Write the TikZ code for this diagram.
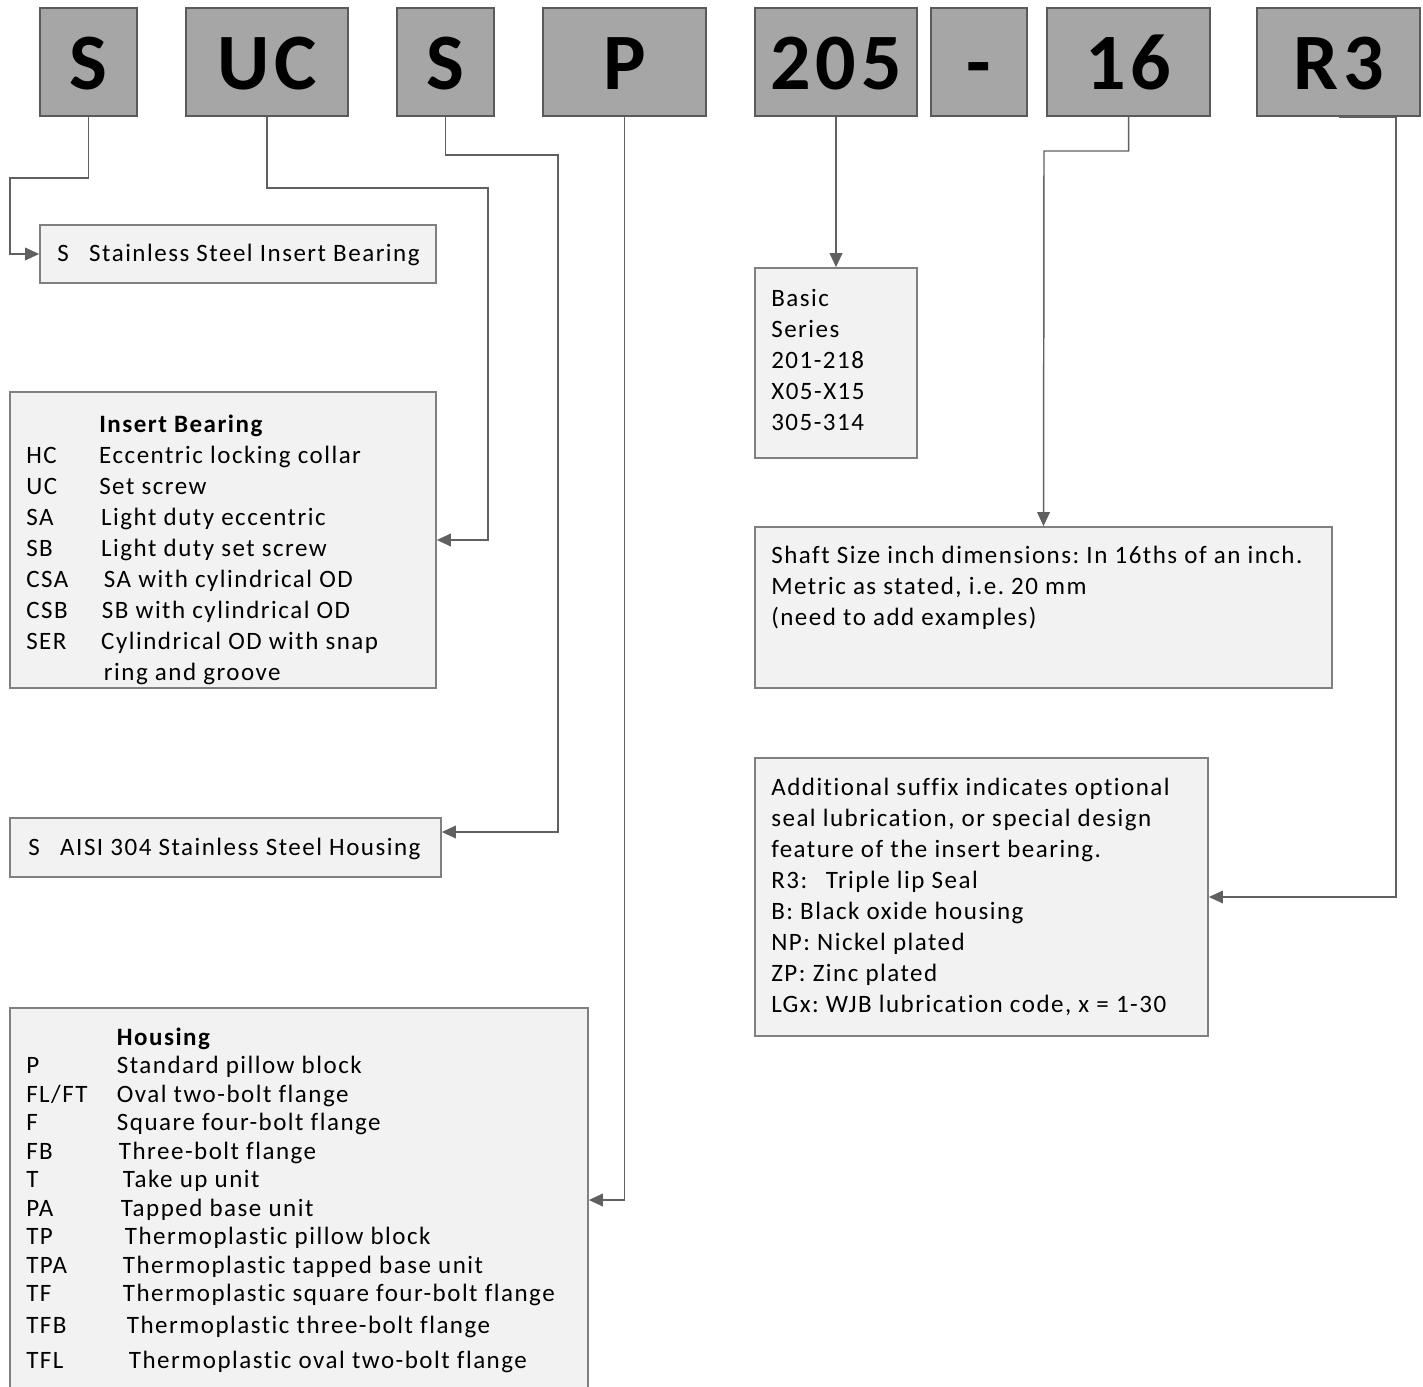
\documentclass[tikz,border=0pt]{standalone}
\usepackage{fontspec}
\setmainfont[LetterSpace=6, Ligatures={NoCommon}]{Carlito}
\frenchspacing
\usetikzlibrary{positioning,arrows.meta}
\definecolor{codefill}{HTML}{A6A6A6}
\definecolor{codeline}{HTML}{5A5A5A}
\definecolor{notefill}{HTML}{F2F2F2}
\definecolor{noteline}{HTML}{808080}
\definecolor{wire}{HTML}{606060}

\begin{document}
\begin{tikzpicture}[
  x=0.75pt, y=-0.75pt,
  code/.style={draw=codeline, fill=codefill, line width=1.3pt, inner sep=0pt, minimum height=81pt, text height=42pt, text depth=0pt, font=\fontsize{60}{64}\selectfont\bfseries},
  note/.style={draw=noteline, fill=notefill, line width=1.3pt, inner sep=0pt},
  txt/.style={anchor=base west, inner sep=0pt, font=\fontsize{18.75}{23.25}\selectfont},
  htxt/.style={txt, font=\fontsize{18.75}{21.4}\selectfont},
  link/.style={draw=wire, line width=1.1pt, -{Triangle[length=10.5pt,width=9.5pt]}},
]
\useasboundingbox (0,0) rectangle (1423,1387);

% ---------- code letters ----------
\node[code, minimum width=72.75pt]  (cS)   at (88.5,62)   {S};
\node[code, minimum width=121.5pt]  (cUC)  at (267,62)    {UC};
\node[code, minimum width=72.75pt]  (cH)   at (445.5,62)  {S};
\node[code, minimum width=122.25pt] (cP)   at (624.5,62)  {P};
\node[code, minimum width=121.5pt]  (c205) at (836,62)    {205};
\node[code, minimum width=72pt]     (cDash) at (979,62)   {-};
\node[code, minimum width=122.25pt] (c16)  at (1128.5,62) {16};
\node[code, minimum width=122.25pt] (cR3)  at (1338.5,62) {R3};

% ---------- left notes ----------
\node[note, minimum width=297pt,    minimum height=43.5pt]  (nStl)  at (238,254)    {};
\node[note, minimum width=319.5pt,  minimum height=222pt]   (nIns)  at (223,540)    {};
\node[note, minimum width=323.25pt, minimum height=44.25pt] (nAisi) at (225.5,847.5) {};
\node[note, minimum width=433.5pt,  minimum height=288pt]   (nHous) at (299,1200)   {};

% ---------- right notes ----------
\node[note, minimum width=121.5pt,  minimum height=142.5pt] (nBasic) at (836,363)     {};
\node[note, minimum width=432.75pt, minimum height=120.75pt] (nShaft) at (1043.5,607.5) {};
\node[note, minimum width=339.75pt, minimum height=208.5pt] (nSfx)   at (981.5,897)   {};

% ---------- note texts ----------
\node[txt] (tStl) at (57,262) {\begin{tabular}[t]{@{}p{24pt}@{}l@{}}S & Stainless Steel Insert Bearing\end{tabular}};

\node[txt] (tIns) at (26,432) {\begin{tabular}[t]{@{}p{54.75pt}@{}l@{}}
  & \textbf{Insert Bearing}\\
  HC  & Eccentric locking collar\\
  UC  & Set screw\\
  SA  & \hspace{1.5pt}Light duty eccentric\\
  SB  & \hspace{1.5pt}Light duty set screw\\
  CSA & \hspace{3.5pt}SA with cylindrical OD\\
  CSB & \hspace{2pt}SB with cylindrical OD\\
  SER & \hspace{1.5pt}Cylindrical OD with snap\\
      & \hspace{3.5pt}ring and groove
\end{tabular}};

\node[txt] (tAisi) at (28,855) {\begin{tabular}[t]{@{}p{24pt}@{}l@{}}S & AISI 304 Stainless Steel Housing\end{tabular}};

\node[htxt] (tHous) at (26,1045) {\begin{tabular}[t]{@{}p{68pt}@{}l@{}}
  & \textbf{Housing}\\
  P     & Standard pillow block\\
  FL/FT & Oval two-bolt flange\\
  F     & Square four-bolt flange\\
  FB    & \hspace{1.5pt}Three-bolt flange\\
  T     & \hspace{4.5pt}Take up unit\\
  PA    & \hspace{3pt}Tapped base unit\\
  TP    & \hspace{6pt}Thermoplastic pillow block\\
  TPA   & \hspace{4.5pt}Thermoplastic tapped base unit\\
  TF    & \hspace{4.5pt}Thermoplastic square four-bolt flange\\[2.6pt]
  TFB   & \hspace{7.5pt}Thermoplastic three-bolt flange\\[4.9pt]
  TFL   & \hspace{9pt}Thermoplastic oval two-bolt flange
\end{tabular}};

\node[txt] (tBasic) at (771,307) {\begin{tabular}[t]{@{}l@{}}Basic\\ Series\\ 201-218\\ X05-X15\\ 305-314\end{tabular}};

\node[txt] (tShaft) at (771,563) {\begin{tabular}[t]{@{}l@{}}
  Shaft Size inch dimensions: In 16ths of an inch.\\
  Metric as stated, i.e. 20 mm\\
  (need to add examples)
\end{tabular}};

\node[txt] (tSfx) at (771,795) {\begin{tabular}[t]{@{}l@{}}
  Additional suffix indicates optional\\
  seal lubrication, or special design\\
  feature of the insert bearing.\\
  R3:\hspace{14pt}Triple lip Seal\\
  B: Black oxide housing\\
  NP: Nickel plated\\
  ZP: Zinc plated\\
  LGx: WJB lubrication code, x = 1-30
\end{tabular}};

% ---------- connectors ----------
\draw[link] (cS.south) |- (10,178) |- (nStl.west);
\draw[link] (cUC.south) |- (488,188) |- (nIns.east);
\draw[link] (cH.south) |- (558,155) |- (nAisi.east |- 0,832);
\draw[link] (cP.south) |- (nHous.east);
\draw[link] (c205.south) -- (nBasic.north);
\draw[link] (c16.south) |- (1044,151) -- (nShaft.north);
\draw[link] (cR3.south) -| (1396,897) -- (nSfx.east);

\end{tikzpicture}
\end{document}
